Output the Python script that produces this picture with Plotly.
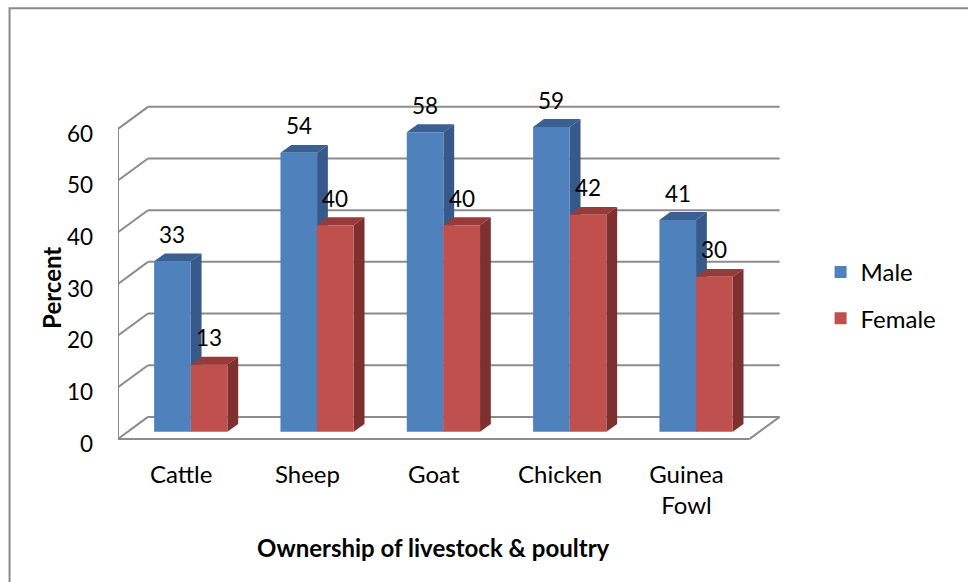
import plotly.graph_objects as go

# ---- data -------------------------------------------------------------
categories = ["Cattle", "Sheep", "Goat", "Chicken", "Guinea<br>Fowl"]
male = [33, 54, 58, 59, 41]
female = [13, 40, 40, 42, 30]
y_ticks = [0, 10, 20, 30, 40, 50, 60]

# ---- geometry of the pseudo-3D box (axis units) -------------------------
W, H = 968, 582
PX_X = 126.4            # pixels per category
PX_Y = 310 / 60         # pixels per percent
DEPTH_X = 30 / PX_X     # horizontal shift of the back wall
DEPTH_Y = 22 / PX_Y     # vertical shift of the back wall
BAR_FRONT, BAR_BACK = 0.32, 0.68   # bar depth as a fraction of box depth
BAR_W = 0.29

x_range = [-0.5, 4.78]
y_range = [-0.6, 65.0]
ml = 118
plot_w = (x_range[1] - x_range[0]) * PX_X
mr = W - ml - plot_w
plot_bottom = 439 + (0 - y_range[0]) * PX_Y
mb = H - plot_bottom
plot_h = (y_range[1] - y_range[0]) * PX_Y
mt = plot_bottom - plot_h


def paper_x(px):
    return (px - ml) / plot_w


def paper_y(py):
    return (plot_bottom - py) / plot_h


FONT = "Lato, 'Open Sans', sans-serif"
NUM_SIZE = 22.5
TXT_SIZE = 24
GRID = "#8c8c8c"
colors = {
    "Male": ("#4F81BD", "#3A6091", "#36598A"),
    "Female": ("#C0504D", "#963B39", "#7D302F"),
}

fx, fy = BAR_FRONT * DEPTH_X, BAR_FRONT * DEPTH_Y
bdx, bdy = (BAR_BACK - BAR_FRONT) * DEPTH_X, (BAR_BACK - BAR_FRONT) * DEPTH_Y

shapes = []
annotations = []


def line(x0, y0, x1, y1):
    shapes.append(dict(type="line", xref="x", yref="y", x0=x0, y0=y0, x1=x1, y1=y1,
                       line=dict(color=GRID, width=2), layer="below"))


# back wall gridlines and side-wall diagonals
x_left, x_right = -0.5, 4.5
for v in y_ticks:
    line(x_left + DEPTH_X, v + DEPTH_Y, x_right + DEPTH_X, v + DEPTH_Y)
    line(x_left, v, x_left + DEPTH_X, v + DEPTH_Y)
# front vertical axis and floor edges
line(x_left, 0, x_left, y_ticks[-1])
line(x_left, 0, x_right, 0)
line(x_right, 0, x_right + DEPTH_X, DEPTH_Y)

fig = go.Figure()
series = [("Male", male, -BAR_W + fx), ("Female", female, fx)]
for name, vals, off in series:
    front, top_c, side_c = colors[name]
    fig.add_trace(go.Bar(
        x=list(range(len(categories))), y=vals, base=fy, width=BAR_W, offset=off,
        name=name, legendgroup=name, marker=dict(color=front, line=dict(width=0)),
        hoverinfo="skip",
    ))
    for i, v in enumerate(vals):
        x0 = i + off
        x1 = x0 + BAR_W
        top = fy + v
        shapes.append(dict(
            type="path", xref="x", yref="y", layer="below", fillcolor=top_c,
            line=dict(width=0),
            path=f"M{x0},{top} L{x1},{top} L{x1 + bdx},{top + bdy} L{x0 + bdx},{top + bdy} Z"))
        shapes.append(dict(
            type="path", xref="x", yref="y", layer="below", fillcolor=side_c,
            line=dict(width=0),
            path=f"M{x1},{fy} L{x1},{top} L{x1 + bdx},{top + bdy} L{x1 + bdx},{fy + bdy} Z"))
        annotations.append(dict(
            x=x0 + BAR_W / 2, y=top + bdy, xref="x", yref="y", text=str(v),
            showarrow=False, xanchor="center", yanchor="middle", yshift=19,
            font=dict(family=FONT, size=NUM_SIZE, color="#000000")))

# outer chart border
shapes.append(dict(type="rect", xref="paper", yref="paper",
                   x0=paper_x(9.5), x1=paper_x(990), y0=paper_y(8.5), y1=paper_y(600),
                   line=dict(color="#8a8a8a", width=2), fillcolor="rgba(0,0,0,0)"))

# axis titles
annotations.append(dict(x=paper_x(52), y=paper_y(288), xref="paper", yref="paper",
                        text="<b>Percent</b>", textangle=-90, showarrow=False,
                        xanchor="center", yanchor="middle",
                        font=dict(family=FONT, size=TXT_SIZE, color="#000000")))
annotations.append(dict(x=paper_x(434), y=paper_y(548), xref="paper", yref="paper",
                        text="<b>Ownership of livestock &amp; poultry</b>", showarrow=False,
                        xanchor="center", yanchor="middle",
                        font=dict(family=FONT, size=TXT_SIZE, color="#000000")))

fig.update_layout(
    width=W, height=H,
    margin=dict(l=ml, r=mr, t=mt, b=mb, autoexpand=False),
    paper_bgcolor="white", plot_bgcolor="white",
    barmode="overlay",
    font=dict(family=FONT, size=TXT_SIZE, color="#000000"),
    shapes=shapes, annotations=annotations,
    showlegend=True,
    legend=dict(x=paper_x(821), y=paper_y(250), xanchor="left", yanchor="top",
                traceorder="grouped", tracegroupgap=12, bgcolor="rgba(0,0,0,0)",
                font=dict(family=FONT, size=TXT_SIZE)),
    xaxis=dict(range=x_range, tickmode="array", tickvals=list(range(len(categories))),
               ticktext=categories, showgrid=False, zeroline=False, showline=False,
               ticks="", ticklabelstandoff=16, fixedrange=True,
               tickfont=dict(family=FONT, size=TXT_SIZE)),
    yaxis=dict(range=y_range, tickmode="array", tickvals=y_ticks, showgrid=False,
               zeroline=False, showline=False, ticks="", ticklabelstandoff=24,
               ticklabelshift=5, fixedrange=True,
               tickfont=dict(family=FONT, size=NUM_SIZE)),
)

fig.write_html("out.html")
